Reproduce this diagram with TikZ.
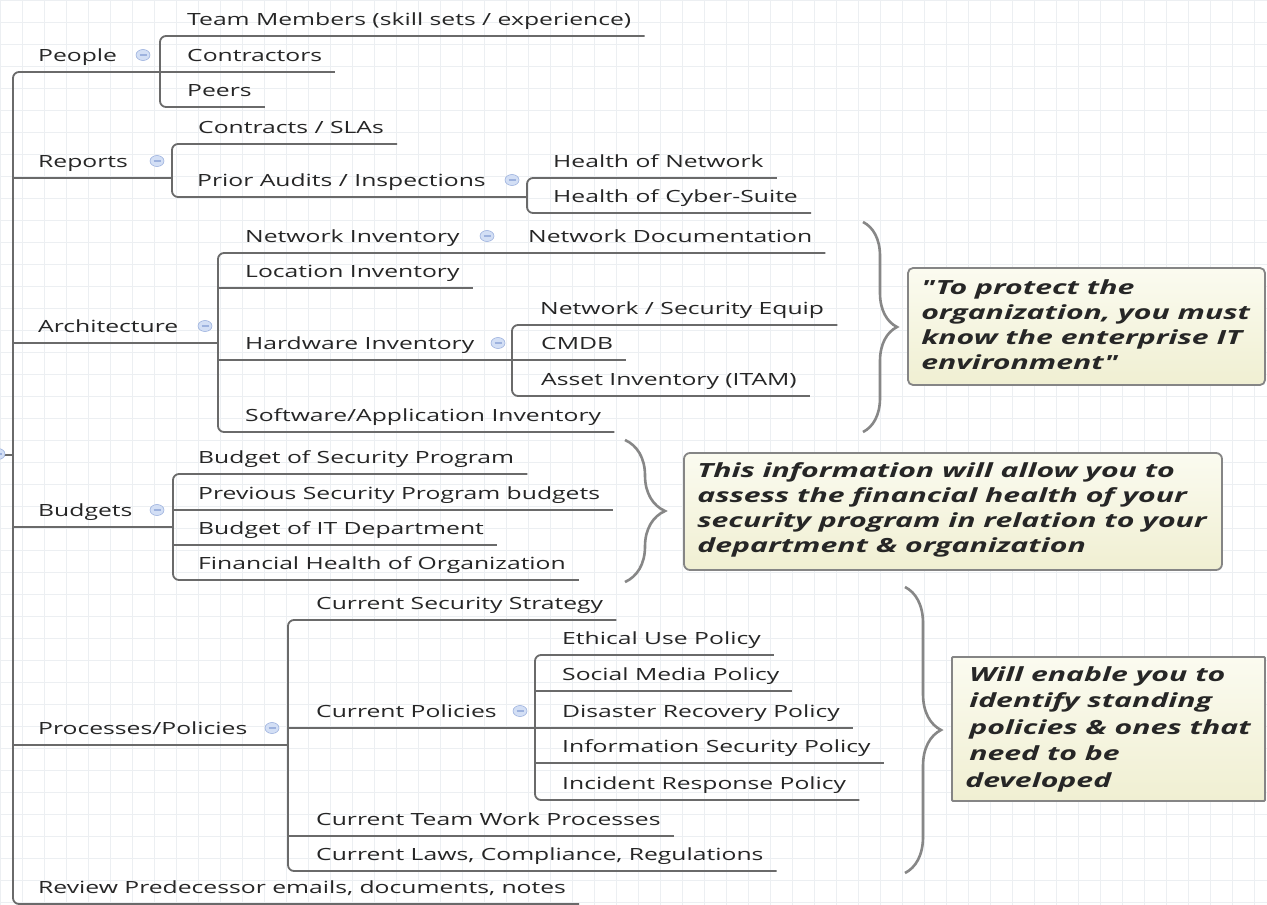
\documentclass[tikz,border=0pt]{standalone}
\usepackage{fontspec}
\setmainfont{Open Sans}[FakeStretch=1.47]
\newfontfamily\callf{Open Sans}[FakeStretch=1.55]
\usetikzlibrary{decorations.pathreplacing,calc}
\definecolor{linec}{HTML}{6A6A6A}
\definecolor{txtc}{HTML}{262626}
\definecolor{gridc}{HTML}{ECEFF2}
\definecolor{bracec}{HTML}{878787}
\definecolor{boxtop}{HTML}{FBFBF0}
\definecolor{boxbot}{HTML}{F0EFD2}
\definecolor{boxline}{HTML}{858585}
\definecolor{iconf}{HTML}{D3DFF5}
\definecolor{icond}{HTML}{9DB2DE}
\newcommand\tpc[4]{\node[lbl] (#1) at (#2,#3-11) {#4}; \path (#1.base east) ++(13,11) coordinate (#1-r);}
\newcommand\colicon[2]{\draw[iconst] (#1,#2) ellipse [x radius=7, y radius=5.5]; \draw[draw=icond, line width=1.2pt] (#1-3.5,#2) -- (#1+3.5,#2);}
\begin{document}
\begin{tikzpicture}[x=1pt,y=-1pt,
  lbl/.style={anchor=base west, inner sep=0pt, text=txtc, font=\fontsize{16.8}{20}\selectfont},
  ln/.style={draw=linec, line width=1.8pt},
  brk/.style={ln, rounded corners=6pt},
  iconst/.style={fill=iconf, draw=icond, line width=0.6pt},
  brc/.style={draw=bracec, line width=2.6pt, decorate, decoration={brace, amplitude=#1}},
  callbox/.style={draw=boxline, line width=1.8pt, top color=boxtop, bottom color=boxbot, rounded corners=5pt, inner sep=0pt},
  calltxt/.style={align=left, inner sep=0pt, text=txtc, font=\callf\bfseries\itshape\fontsize{19.5}{25}\selectfont}
]
\useasboundingbox (0,0) rectangle (1267,905);
\fill[white] (0,0) rectangle (1267,905);
\foreach \gx in {0,22,...,1267} \draw[gridc, line width=0.6pt] (\gx,0) -- (\gx,905);
\foreach \gy in {0,22,...,905} \draw[gridc, line width=0.6pt] (0,\gy) -- (1267,\gy);

% junction coordinates
\coordinate (trunk-top) at (13,72);
\coordinate (trunk-bot) at (13,904);
\coordinate (root-j) at (13,455);
\coordinate (people-b) at (160,72);
\coordinate (reports-b) at (172,178);
\coordinate (audit-b) at (527,197);
\coordinate (arch-b) at (218,343);
\coordinate (hw-b) at (512,360);
\coordinate (budgets-b) at (173,527);
\coordinate (proc-b) at (288,745);
\coordinate (pol-b) at (535,728);

% topics
\tpc{people}{38}{72}{People}
\tpc{reports}{38}{178}{Reports}
\tpc{arch}{38}{343}{Architecture}
\tpc{budgets}{38}{527}{Budgets}
\tpc{proc}{38}{745}{Processes/Policies}
\tpc{review}{38}{904}{Review Predecessor emails, documents, notes}

\tpc{team}{187}{36}{Team Members (skill sets / experience)}
\tpc{contr}{187}{72}{Contractors}
\tpc{peers}{187}{107}{Peers}

\tpc{sla}{198}{144}{Contracts / SLAs}
\tpc{audit}{197}{197}{Prior Audits / Inspections}
\tpc{hnet}{553}{178}{Health of Network}
\tpc{hcyb}{553}{213}{Health of Cyber-Suite}

\tpc{netinv}{245}{253}{Network Inventory}
\tpc{netdoc}{528}{253}{Network Documentation}
\tpc{locinv}{245}{288}{Location Inventory}
\tpc{hwinv}{245}{360}{Hardware Inventory}
\tpc{swinv}{245}{432}{Software/Application Inventory}
\tpc{nseq}{540}{325}{Network / Security Equip}
\tpc{cmdb}{541}{360}{CMDB}
\tpc{itam}{541}{396}{Asset Inventory (ITAM)}

\tpc{bsec}{198}{474}{Budget of Security Program}
\tpc{bprev}{198}{510}{Previous Security Program budgets}
\tpc{bit}{198}{545}{Budget of IT Department}
\tpc{bfin}{198}{580}{Financial Health of Organization}

\tpc{strat}{316}{620}{Current Security Strategy}
\tpc{pol}{316}{728}{Current Policies}
\tpc{team2}{316}{836}{Current Team Work Processes}
\tpc{laws}{316}{871}{Current Laws, Compliance, Regulations}
\tpc{ethic}{562}{655}{Ethical Use Policy}
\tpc{social}{562}{691}{Social Media Policy}
\tpc{disas}{562}{728}{Disaster Recovery Policy}
\tpc{infosec}{562}{763}{Information Security Policy}
\tpc{incid}{562}{800}{Incident Response Policy}

% trunk
\draw[ln] (-1,455) -- (root-j);
\draw[brk] (people-b) -- (trunk-top) -- (trunk-bot) -- (review-r);
\draw[ln] (trunk-top |- reports-b) -- (reports-b);
\draw[ln] (trunk-top |- arch-b) -- (arch-b);
\draw[ln] (trunk-top |- budgets-b) -- (budgets-b);
\draw[ln] (trunk-top |- proc-b) -- (proc-b);

% people
\draw[brk] (team-r) -- (people-b |- team-r) -- (people-b |- peers-r) -- (peers-r);
\draw[ln] (people-b) -- (contr-r);

% reports
\draw[brk] (sla-r) -- (reports-b |- sla-r) -- (reports-b |- audit-b) -- (audit-b);
\draw[brk] (hnet-r) -- (audit-b |- hnet-r) -- (audit-b |- hcyb-r) -- (hcyb-r);

% architecture
\draw[brk] (netdoc-r) -- (arch-b |- netdoc-r) -- (arch-b |- swinv-r) -- (swinv-r);
\draw[ln] (arch-b |- locinv-r) -- (locinv-r);
\draw[ln] (arch-b |- hw-b) -- (hw-b);
\draw[brk] (nseq-r) -- (hw-b |- nseq-r) -- (hw-b |- itam-r) -- (itam-r);
\draw[ln] (hw-b) -- (cmdb-r);

% budgets
\draw[brk] (bsec-r) -- (budgets-b |- bsec-r) -- (budgets-b |- bfin-r) -- (bfin-r);
\draw[ln] (budgets-b |- bprev-r) -- (bprev-r);
\draw[ln] (budgets-b |- bit-r) -- (bit-r);

% processes
\draw[brk] (strat-r) -- (proc-b |- strat-r) -- (proc-b |- laws-r) -- (laws-r);
\draw[ln] (proc-b |- pol-b) -- (pol-b);
\draw[ln] (proc-b |- team2-r) -- (team2-r);
\draw[brk] (ethic-r) -- (pol-b |- ethic-r) -- (pol-b |- incid-r) -- (incid-r);
\draw[ln] (pol-b |- social-r) -- (social-r);
\draw[ln] (pol-b) -- (disas-r);
\draw[ln] (pol-b |- infosec-r) -- (infosec-r);

% collapse icons
\colicon{-2}{454}
\colicon{143}{55}
\colicon{157}{161}
\colicon{512}{180}
\colicon{487}{236}
\colicon{205}{326}
\colicon{498}{343}
\colicon{157}{510}
\colicon{272}{728}
\colicon{520}{711}

% braces
\coordinate (br1-t) at (863,222); \coordinate (br1-b) at (863,432);
\coordinate (br2-t) at (625,440); \coordinate (br2-b) at (625,582);
\coordinate (br3-t) at (905,587); \coordinate (br3-b) at (905,873);
\draw[brc=34pt] (br1-t) -- (br1-b);
\draw[brc=40pt] (br2-t) -- (br2-b);
\draw[brc=36pt] (br3-t) -- (br3-b);

% callouts
\node[callbox, minimum width=357pt, minimum height=117pt] (box1) at (1086.5,326.5) {};
\node[calltxt, anchor=west] (note1) at ([xshift=14pt,yshift=2pt]box1.west) {"To protect the\\organization, you must\\know the enterprise IT\\environment"};
\node[callbox, minimum width=538pt, minimum height=117pt, rounded corners=6pt] (box2) at (953,511.5) {};
\node[calltxt, anchor=west] (note2) at ([xshift=14pt,yshift=2pt]box2.west) {This information will allow you to\\assess the financial health of your\\security program in relation to your\\department \& organization};
\node[callbox, minimum width=313pt, minimum height=144pt, rounded corners=1pt] (box3) at (1108.5,729) {};
\node[calltxt, anchor=west, font=\callf\bfseries\itshape\fontsize{19.5}{26.5}\selectfont] (note3) at ([xshift=14pt]box3.west) {\hspace{4pt}Will enable you to\\\hspace{4pt}identify standing\\\hspace{4pt}policies \& ones that\\\hspace{4pt}need to be\\developed};
\end{tikzpicture}
\end{document}
